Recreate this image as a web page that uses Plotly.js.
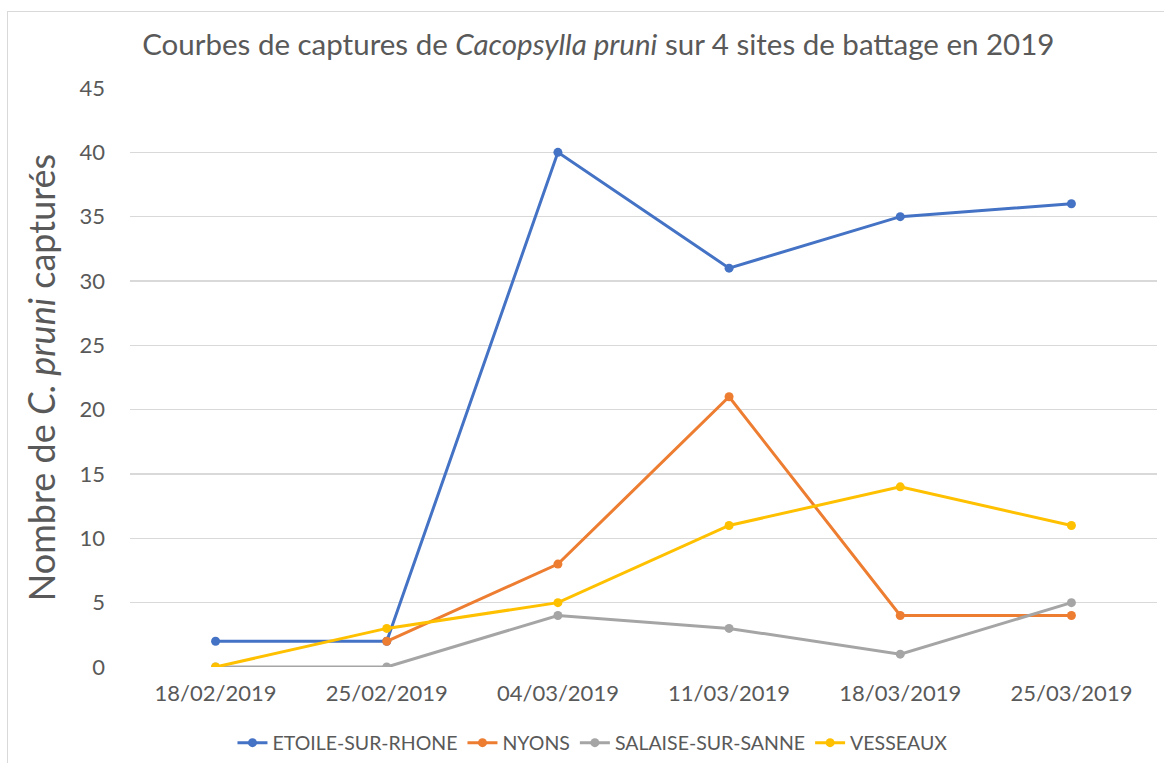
<!DOCTYPE html>
<html>
<head>
<meta charset="utf-8">
<script src="https://cdn.plot.ly/plotly-3.0.1.min.js"></script>
<style>
html,body{margin:0;padding:0;background:#fff;}
#wrap{position:relative;width:1164px;height:763px;overflow:hidden;}
#frame{position:absolute;left:7px;top:11px;width:1200px;height:800px;border-left:1px solid #d9d9d9;border-top:1px solid #d9d9d9;pointer-events:none;}
#chart{position:absolute;left:0;top:0;width:1164px;height:763px;}
</style>
</head>
<body>
<div id="wrap"><div id="chart"></div><div id="frame"></div></div>
<script>
const dates = ["18/02/2019","25/02/2019","04/03/2019","11/03/2019","18/03/2019","25/03/2019"];
const etoile = [2, 2, 40, 31, 35, 36];
const nyons = [null, 2, 8, 21, 4, 4];
const salaise = [0, 0, 4, 3, 1, 5];
const vesseaux = [0, 3, 5, 11, 14, 11];
const seriesNames = ["ETOILE-SUR-RHONE","NYONS","SALAISE-SUR-SANNE","VESSEAUX"];
const seriesColors = ["#4472C4","#ED7D31","#A5A5A5","#FFC000"];
const yTicks = [0,5,10,15,20,25,30,35,40,45];

const font = "Lato, 'Open Sans', sans-serif";
const vals = [etoile, nyons, salaise, vesseaux];
const traces = vals.map((v,i)=>({
  x: dates, y: v, name: seriesNames[i], type: "scatter", mode: "lines+markers",
  line: {color: seriesColors[i], width: 3},
  marker: {color: seriesColors[i], size: 9},
  connectgaps: false
}));

const layout = {
  width: 1164, height: 763,
  paper_bgcolor: "rgba(0,0,0,0)", plot_bgcolor: "#fff",
  margin: {l:130, r:7, t:88, b:96},
  font: {family: font, color: "#595959"},
  title: {
    text: "Courbes de captures de <i>Cacopsylla pruni</i> sur 4 sites de battage en 2019",
    font: {family: font, size: 29.5, color: "#595959"},
    xref: "container", x: 0.514, xanchor: "center",
    yref: "container", y: 1-45/763, yanchor: "middle"
  },
  xaxis: {
    type: "category", categoryarray: dates, range: [-0.5, 5.5],
    showgrid: false, zeroline: false, showline: false, ticks: "",
    tickfont: {size: 22, color: "#595959", family: font},
    ticklabelstandoff: 11
  },
  yaxis: {
    range: [0, 45], tickvals: yTicks, ticktext: yTicks.map(String),
    showgrid: true, gridcolor: "#d9d9d9", gridwidth: 1.3,
    zeroline: false, showline: false, ticks: "",
    tickfont: {size: 22, color: "#595959", family: font},
    ticklabelstandoff: 24,
    title: {text: "Nombre de <i>C. pruni</i> capturés", font: {size: 36, color: "#595959", family: font}, standoff: 12}
  },
  showlegend: true,
  legend: {
    orientation: "h", xref: "container", yref: "container",
    x: 0.509, xanchor: "center", y: 1-743/763, yanchor: "middle",
    font: {size: 19.5, color: "#595959", family: font},
    itemwidth: 30, tracegroupgap: 0, bgcolor: "rgba(0,0,0,0)"
  }
};
Plotly.newPlot("chart", traces, layout, {displayModeBar: false, staticPlot: true});
</script>
</body>
</html>
